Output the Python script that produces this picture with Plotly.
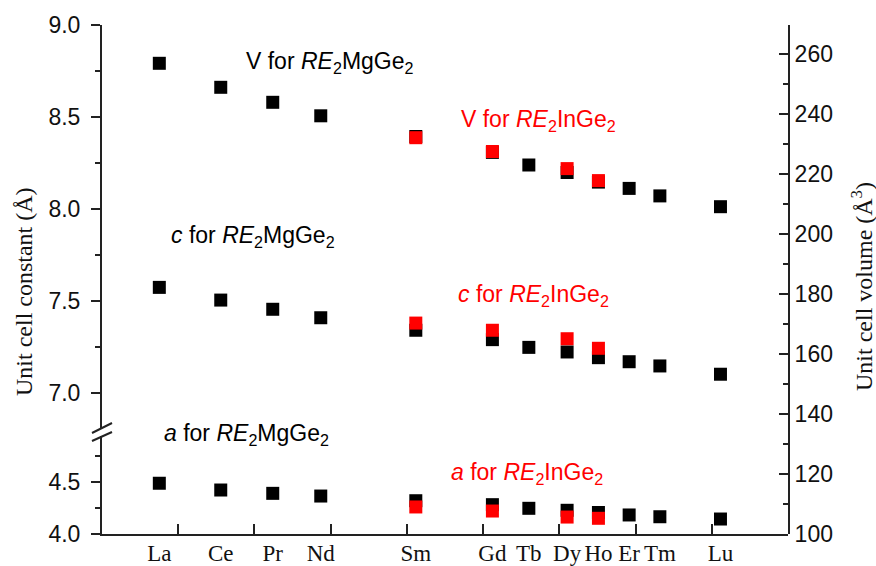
import plotly.graph_objects as go

# ---------------- data ----------------
elements = ["La", "Ce", "Pr", "Nd", "Sm", "Gd", "Tb", "Dy", "Ho", "Er", "Tm", "Lu"]
x_pos = [0.752, 1.558, 2.240, 2.870, 4.117, 5.122, 5.600, 6.102, 6.513, 6.916, 7.319, 8.114]

# RE2MgGe2 (all elements)
a_mg = [4.488, 4.423, 4.391, 4.365, 4.320, 4.282, 4.247, 4.228, 4.207, 4.183, 4.166, 4.144]
c_mg = [7.574, 7.505, 7.455, 7.409, 7.341, 7.290, 7.248, 7.223, 7.192, 7.170, 7.147, 7.102]
v_mg = [256.9, 248.9, 243.9, 239.4, 232.5, 227.2, 223.0, 220.5, 217.3, 215.2, 212.7, 209.1]

# RE2InGe2 (Sm, Gd, Dy, Ho)
in_elements = ["Sm", "Gd", "Dy", "Ho"]
a_in = [4.260, 4.221, 4.163, 4.151]
c_in = [7.380, 7.341, 7.295, 7.243]
v_in = [232.1, 227.5, 221.8, 217.8]

x_ticks = [1, 2, 3, 4, 5, 6, 7, 8]
left_low_ticks = [4.0, 4.5]
left_low_minor = [4.25, 4.75]

# ---------------- figure ----------------
W, H = 876, 566
ML, MR, MT, MB = 102, 88, 25, 32
PW, PH = W - ML - MR, H - MT - MB

def py(pix):  # pixel row -> paper fraction
    return (H - MB - pix) / PH

def px(pix):  # pixel column -> paper fraction
    return (pix - ML) / PW

in_x = [x_pos[elements.index(e)] for e in in_elements]

BLACK = "#000000"
RED = "#ff0000"
msize = 13

fig = go.Figure()
fig.add_trace(go.Scatter(x=x_pos, y=a_mg, mode="markers", xaxis="x", yaxis="y",
                         marker=dict(symbol="square", size=msize, color=BLACK), showlegend=False))
fig.add_trace(go.Scatter(x=in_x, y=a_in, mode="markers", xaxis="x", yaxis="y",
                         marker=dict(symbol="square", size=msize, color=RED), showlegend=False))
fig.add_trace(go.Scatter(x=x_pos, y=c_mg, mode="markers", xaxis="x", yaxis="y2",
                         marker=dict(symbol="square", size=msize, color=BLACK), showlegend=False))
fig.add_trace(go.Scatter(x=in_x, y=c_in, mode="markers", xaxis="x", yaxis="y2",
                         marker=dict(symbol="square", size=msize, color=RED), showlegend=False))
fig.add_trace(go.Scatter(x=x_pos, y=v_mg, mode="markers", xaxis="x", yaxis="y3",
                         marker=dict(symbol="square", size=msize, color=BLACK), showlegend=False))
fig.add_trace(go.Scatter(x=in_x, y=v_in, mode="markers", xaxis="x", yaxis="y3",
                         marker=dict(symbol="square", size=msize, color=RED), showlegend=False))

LINE = "#222222"
LW = 2
sans = "Liberation Sans"
serif = "Liberation Serif"
TXT = "#111111"

low_top = py(436)
up_bot = py(428)
low_range_top = 4.0 + (534 - 436) / 104.0
up_range_bot = 7.0 - (428 - 393) / 184.0

fig.update_layout(
    width=W, height=H,
    margin=dict(l=ML, r=MR, t=MT, b=MB, autoexpand=False),
    paper_bgcolor="white", plot_bgcolor="rgba(0,0,0,0)",
    xaxis=dict(domain=[0, 1], range=[0, 9], anchor="y", automargin=False,
               tickvals=x_pos, ticktext=elements, ticks="", ticklabelstandoff=-3,
               tickfont=dict(family=serif, size=23, color=TXT),
               minor=dict(tickvals=x_ticks, ticks="inside", ticklen=10, tickwidth=LW,
                          tickcolor=LINE),
               showline=True, linecolor=LINE, linewidth=LW,
               showgrid=False, zeroline=False),
    xaxis2=dict(range=[0, 9], overlaying="x", anchor="y2", side="top", tickvals=x_ticks,
                automargin=False,
                showticklabels=False, ticks="inside", ticklen=10, tickwidth=LW,
                tickcolor=LINE, showline=True, linecolor=LINE, linewidth=LW,
                showgrid=False, zeroline=False),
    yaxis=dict(domain=[0, low_top], range=[4.0, low_range_top], anchor="x", automargin=False,
               tickvals=left_low_ticks, tickformat=".1f", ticks="outside", ticklen=9,
               tickwidth=LW, tickcolor=LINE, showline=True, linecolor=LINE, linewidth=LW,
               ticklabelstandoff=6,
               minor=dict(tickvals=left_low_minor, ticks="outside", ticklen=5,
                          tickwidth=LW, tickcolor=LINE),
               showgrid=False, zeroline=False,
               tickfont=dict(family=sans, size=23, color=TXT)),
    yaxis2=dict(domain=[up_bot, 1], range=[up_range_bot, 9.0], anchor="x", automargin=False,
                tick0=7.0, dtick=0.5, tickformat=".1f", ticks="outside", ticklen=9,
                tickwidth=LW, tickcolor=LINE, showline=True, linecolor=LINE, linewidth=LW,
                ticklabelstandoff=6,
                minor=dict(tick0=6.75, dtick=0.25, ticks="outside", ticklen=5,
                           tickwidth=LW, tickcolor=LINE),
                showgrid=False, zeroline=False,
                tickfont=dict(family=sans, size=23, color=TXT)),
    yaxis3=dict(domain=[0, 1], range=[100, 100 + (534 - 25) / 3.0], anchor="x", side="right",
                automargin=False,
                tick0=100, dtick=20, ticks="inside", ticklen=9, tickwidth=LW, tickcolor=LINE,
                showline=True, linecolor=LINE, linewidth=LW,
                minor=dict(dtick=10, ticks="inside", ticklen=5, tickwidth=LW, tickcolor=LINE),
                showgrid=False, zeroline=False,
                tickfont=dict(family=sans, size=23, color=TXT)),
)

# axis break marks
for (x0, y0, x1, y1) in [(92, 433, 112, 423), (92, 441, 112, 432)]:
    fig.add_shape(type="line", xref="paper", yref="paper",
                  x0=px(x0), y0=py(y0), x1=px(x1), y1=py(y1),
                  line=dict(color=LINE, width=LW))

# axis titles
fig.add_annotation(text="Unit cell constant (Å)", xref="paper", yref="paper",
                   x=px(24), y=py(292), textangle=-90, showarrow=False,
                   xanchor="center", yanchor="middle",
                   font=dict(family=serif, size=24, color=TXT))
fig.add_annotation(text="Unit cell volume (Å<sup>3</sup>)", xref="paper", yref="paper",
                   x=px(862), y=py(287), textangle=-90, showarrow=False,
                   xanchor="center", yanchor="middle",
                   font=dict(family=serif, size=24, color=TXT))

# series labels
labels = [
    ("V for <i>RE</i><sub>2</sub>MgGe<sub>2</sub>", 244, 63, BLACK),
    ("<i>c</i> for <i>RE</i><sub>2</sub>MgGe<sub>2</sub>", 169, 236, BLACK),
    ("<i>a</i> for <i>RE</i><sub>2</sub>MgGe<sub>2</sub>", 162, 435, BLACK),
    ("V for <i>RE</i><sub>2</sub>InGe<sub>2</sub>", 459, 120, RED),
    ("<i>c</i> for <i>RE</i><sub>2</sub>InGe<sub>2</sub>", 456, 295, RED),
    ("<i>a</i> for <i>RE</i><sub>2</sub>InGe<sub>2</sub>", 449, 473, RED),
]
for txt, lx, ly, col in labels:
    fig.add_annotation(text=txt, xref="paper", yref="paper", x=px(lx), y=py(ly),
                       xanchor="left", yanchor="middle", showarrow=False,
                       font=dict(family=sans, size=23, color=col))

fig.write_html("out.html", config={"displayModeBar": False},
               post_script="document.body.style.margin='0px';")
